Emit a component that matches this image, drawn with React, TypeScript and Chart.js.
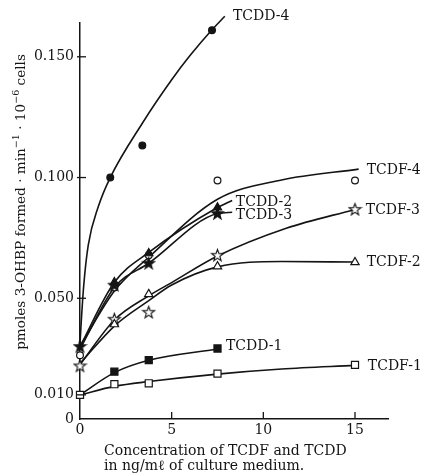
import React, { useEffect, useRef } from "react";
import { Chart, registerables } from "chart.js";

Chart.register(...registerables);

// ---------- data (concentration in ng/ml, activity in pmoles/min/10^6 cells) ----------
const doses = [0, 1.875, 3.75, 7.5, 15];
const tcdd4Doses = [1.65, 3.4, 7.2];

// measured points (null = no marker)
const tcdf1Points = [0.010, 0.0144, 0.0148, 0.0188, 0.0224];
const tcdd1Points = [null, 0.0196, 0.0244, 0.0292, null];
const tcdf2Points = [null, 0.0392, 0.0517, 0.0632, 0.0649];
const tcdd2Points = [null, 0.0566, 0.0686, 0.0876, null];
const tcdf3Points = [0.022, 0.0413, 0.0442, 0.0678, 0.0868];
const tcdd3Points = [0.030, 0.0554, 0.0645, 0.0851, null];
const tcdf4Points = [0.0264, 0.0545, 0.0678, 0.0988, 0.0988];
const tcdd4Points = [0.100, 0.1133, 0.161];

// fitted curves
const tcdf1CurveX = [0, 1.875, 3.75, 7.5, 11, 15];
const tcdf1CurveY = [0.010, 0.0135, 0.0155, 0.0186, 0.0207, 0.0222];
const tcdd1CurveX = [0, 1.875, 3.75, 7.5];
const tcdd1CurveY = [0.010, 0.0192, 0.0243, 0.029];
const tcdf2CurveX = [0, 1.875, 3.75, 5, 7.5, 11, 15];
const tcdf2CurveY = [0.023, 0.0385, 0.049, 0.0555, 0.063, 0.0652, 0.065];
const tcdf3CurveX = [0, 1.875, 3.75, 5, 7.5, 11.25, 15];
const tcdf3CurveY = [0.0225, 0.041, 0.051, 0.0565, 0.0675, 0.079, 0.0868];
const tcdd2CurveX = [0, 1.875, 3.75, 7.5, 8.3];
const tcdd2CurveY = [0.030, 0.0566, 0.069, 0.0876, 0.0905];
const tcdd3CurveX = [0, 1.875, 3.75, 7.5, 8.3];
const tcdd3CurveY = [0.029, 0.0545, 0.0645, 0.0851, 0.0856];
const tcdf4CurveX = [0, 1.875, 3.75, 7.5, 11, 15.2];
const tcdf4CurveY = [0.030, 0.053, 0.067, 0.091, 0.099, 0.1035];
const tcdd4CurveX = [0, 0.05, 0.2, 0.45, 1, 1.65, 3.4, 5, 6, 7.2, 7.9];
const tcdd4CurveY = [0.031, 0.038, 0.055, 0.072, 0.088, 0.1, 0.1225, 0.1405, 0.1505, 0.1612, 0.1668];

// series labels (anchored in data space)
const seriesNames = ["TCDD-4", "TCDF-4", "TCDD-2", "TCDD-3", "TCDF-3", "TCDF-2", "TCDD-1", "TCDF-1"];
const labelX = [8.34, 15.64, 8.5, 8.5, 15.59, 15.64, 7.96, 15.7];
const labelY = [0.1667, 0.1029, 0.0896, 0.0843, 0.0864, 0.0649, 0.030, 0.022];

// axes
const xTicks = [0, 5, 10, 15];
const yTicks = [0, 0.010, 0.050, 0.100, 0.150];
const xTitleLines = ["Concentration of TCDF and TCDD", "in ng/m\u2113 of culture medium."];
const yTitleParts: { t: string; sup?: boolean }[] = [
  { t: "pmoles 3-OHBP formed \u00b7 min" },
  { t: "\u22121", sup: true },
  { t: " \u00b7 10" },
  { t: "\u22126", sup: true },
  { t: " cells" },
];

// ---------- helpers ----------
const INK = "#141414";
const FONT = "'DejaVu Serif', 'Liberation Serif', serif";

function zip(xs: number[], ys: (number | null)[]) {
  const out: { x: number; y: number }[] = [];
  xs.forEach((x, i) => {
    const y = ys[i];
    if (y !== null && y !== undefined) out.push({ x, y });
  });
  return out;
}

function makeStar(filled: boolean) {
  const c = document.createElement("canvas");
  c.width = 15;
  c.height = 15;
  const g = c.getContext("2d")!;
  g.beginPath();
  for (let i = 0; i < 10; i++) {
    const r = i % 2 ? 2.5 : 6.2;
    const a = -Math.PI / 2 + (i * Math.PI) / 5;
    g.lineTo(7.5 + r * Math.cos(a), 7.8 + r * Math.sin(a));
  }
  g.closePath();
  g.fillStyle = filled ? INK : "#ffffff";
  g.fill();
  g.lineWidth = 1.1;
  g.strokeStyle = INK;
  g.stroke();
  return c;
}

const decorPlugin = {
  id: "decor",
  afterDraw(chart: any) {
    const { ctx } = chart;
    const xs = chart.scales.x;
    const ys = chart.scales.y;
    ctx.save();
    ctx.strokeStyle = INK;
    ctx.lineWidth = 1.3;
    // inward tick marks
    yTicks.forEach((v) => {
      if (v === 0) return;
      const py = ys.getPixelForValue(v);
      ctx.beginPath();
      ctx.moveTo(xs.left - 3, py);
      ctx.lineTo(xs.left + 6, py);
      ctx.stroke();
    });
    xTicks.forEach((v) => {
      if (v === 0) return;
      const px = xs.getPixelForValue(v);
      ctx.beginPath();
      ctx.moveTo(px, ys.bottom);
      ctx.lineTo(px, ys.bottom - 7);
      ctx.stroke();
    });

    // series labels
    ctx.fillStyle = INK;
    ctx.font = `14px ${FONT}`;
    ctx.textAlign = "left";
    ctx.textBaseline = "middle";
    seriesNames.forEach((name, i) => {
      ctx.fillText(name, xs.getPixelForValue(labelX[i]), ys.getPixelForValue(labelY[i]));
    });

    // x title (two left-aligned lines)
    ctx.font = `13px ${FONT}`;
    const w0 = ctx.measureText(xTitleLines[0]).width;
    const xs2 = (13 * 243) / w0;
    ctx.font = `${xs2}px ${FONT}`;
    ctx.textAlign = "left";
    ctx.fillText(xTitleLines[0], 104, 451);
    ctx.fillText(xTitleLines[1], 104, 466);

    // y title (rotated, with superscripts)
    const measure = (size: number) => {
      let tot = 0;
      yTitleParts.forEach((p) => {
        ctx.font = `${p.sup ? size * 0.7 : size}px ${FONT}`;
        tot += ctx.measureText(p.t).width;
      });
      return tot;
    };
    const base = 13;
    const size = (base * 296) / measure(base);
    const total = measure(size);
    ctx.translate(21, 202);
    ctx.rotate(-Math.PI / 2);
    let cx = -total / 2;
    yTitleParts.forEach((p) => {
      ctx.font = `${p.sup ? size * 0.7 : size}px ${FONT}`;
      ctx.fillText(p.t, cx, p.sup ? -size * 0.35 : 0);
      cx += ctx.measureText(p.t).width;
    });
    ctx.restore();
  },
};

export default function App() {
  const ref = useRef<HTMLCanvasElement>(null);

  useEffect(() => {
    document.body.style.margin = "0";
    const openStar = makeStar(false);
    const filledStar = makeStar(true);

    const curve = (xs: number[], ys: number[]) => ({
      type: "line" as const,
      data: zip(xs, ys),
      borderColor: INK,
      borderWidth: 1.6,
      pointRadius: 0,
      fill: false,
      cubicInterpolationMode: "monotone" as const,
      clip: false as any,
      order: 2,
    });
    const marks = (xs: number[], ys: (number | null)[], style: any, filled: boolean, radius: number) => ({
      type: "scatter" as const,
      data: zip(xs, ys),
      showLine: false,
      pointStyle: style,
      pointRadius: radius,
      pointBackgroundColor: filled ? INK : "#ffffff",
      pointBorderColor: INK,
      pointBorderWidth: 1.2,
      clip: false as any,
      order: 1,
    });

    const chart = new Chart(ref.current!, {
      type: "scatter",
      data: {
        datasets: [
          curve(tcdf1CurveX, tcdf1CurveY),
          curve(tcdd1CurveX, tcdd1CurveY),
          curve(tcdf2CurveX, tcdf2CurveY),
          curve(tcdf3CurveX, tcdf3CurveY),
          curve(tcdd2CurveX, tcdd2CurveY),
          curve(tcdd3CurveX, tcdd3CurveY),
          curve(tcdf4CurveX, tcdf4CurveY),
          curve(tcdd4CurveX, tcdd4CurveY),
          marks(doses, tcdf1Points, "rect", false, 5),
          marks(doses, tcdd1Points, "rect", true, 5),
          marks(doses, tcdf2Points, "triangle", false, 4.8),
          marks(doses, tcdd2Points, "triangle", true, 4.8),
          marks(doses, tcdf3Points, openStar, false, 6),
          marks(doses, tcdd3Points, filledStar, true, 6),
          marks(doses, tcdf4Points, "circle", false, 3.4),
          marks(tcdd4Doses, tcdd4Points, "circle", true, 3.4),
        ] as any,
      },
      options: {
        animation: false,
        responsive: false,
        events: [],
        layout: { padding: { left: 0, top: 23, right: 42, bottom: 0 } },
        plugins: { legend: { display: false }, tooltip: { enabled: false } },
        scales: {
          x: {
            type: "linear",
            min: 0,
            max: 16.8,
            afterBuildTicks: (s: any) => {
              s.ticks = xTicks.map((v) => ({ value: v }));
            },
            afterFit: (s: any) => {
              s.height = 57;
            },
            grid: { display: false, drawTicks: false },
            border: { display: true, color: INK, width: 1.5 },
            ticks: {
              color: INK,
              padding: 3,
              font: { family: FONT, size: 14 },
              callback: (v: any) => String(v),
            },
          },
          y: {
            type: "linear",
            min: 0,
            max: 0.164,
            afterBuildTicks: (s: any) => {
              s.ticks = yTicks.map((v) => ({ value: v }));
            },
            afterFit: (s: any) => {
              s.width = 80;
            },
            grid: { display: false, drawTicks: false },
            border: { display: true, color: INK, width: 1.5 },
            ticks: {
              color: INK,
              padding: 6,
              font: { family: FONT, size: 14 },
              callback: (v: any) => (Number(v) === 0 ? "0" : Number(v).toFixed(3)),
            },
          },
        },
      },
      plugins: [decorPlugin],
    } as any);

    return () => chart.destroy();
  }, []);

  return (
    <div style={{ width: 430, height: 476, background: "#fff" }}>
      <canvas ref={ref} width={430} height={476} style={{ display: "block" }} />
    </div>
  );
}
